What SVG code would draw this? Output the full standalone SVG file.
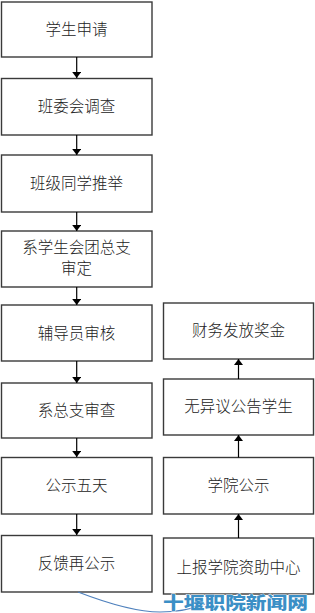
<svg xmlns="http://www.w3.org/2000/svg" width="315" height="613" viewBox="0 0 315 613">
<defs>
<marker id="ah" viewBox="0 0 10 10" refX="10" refY="5" markerWidth="6" markerHeight="9" markerUnits="userSpaceOnUse" orient="auto" preserveAspectRatio="none">
<path d="M0,0 L10,5 L0,10 z" fill="#000"/>
</marker>
<style>
.box{fill:#fff;stroke:#3a3a3a;stroke-width:1.4}
.t{font-family:"Noto Sans CJK SC","Noto Sans",sans-serif;font-weight:300;font-size:15.5px;fill:#222;text-anchor:middle}
.c{stroke:#000;stroke-width:1.2;fill:none;marker-end:url(#ah)}
.wm{font-family:"Noto Sans CJK SC",sans-serif;font-weight:900;font-size:17px;fill:#3b8fc6;stroke:#fff;stroke-width:0.8;paint-order:stroke}
</style>
</defs>
<rect width="315" height="613" fill="#fff"/>
<g id="n1"><rect class="box" x="1.5" y="2" width="150.5" height="55"/><text class="t" x="76.5" y="35">学生申请</text></g>
<g id="n2"><rect class="box" x="1.5" y="78.5" width="150.5" height="56.5"/><text class="t" x="76.5" y="112">班委会调查</text></g>
<g id="n3"><rect class="box" x="1.5" y="155" width="150.5" height="57"/><text class="t" x="76.5" y="189">班级同学推举</text></g>
<g id="n4"><rect class="box" x="1.5" y="231" width="150.5" height="56"/><text class="t" x="76.5" y="252.5">系学生会团总支</text><text class="t" x="76.5" y="274">审定</text></g>
<g id="n5"><rect class="box" x="1.5" y="305" width="150.5" height="56"/><text class="t" x="76.5" y="338.5">辅导员审核</text></g>
<g id="n6"><rect class="box" x="1.5" y="383" width="150.5" height="55"/><text class="t" x="76.5" y="415.5">系总支审查</text></g>
<g id="n7"><rect class="box" x="1.5" y="457.5" width="150.5" height="56.5"/><text class="t" x="76.5" y="491">公示五天</text></g>
<g id="n8"><rect class="box" x="1.5" y="535.5" width="150.5" height="56.5"/><text class="t" x="76.5" y="569">反馈再公示</text></g>
<g id="r1"><rect class="box" x="163.5" y="303" width="150" height="56"/><text class="t" x="238.5" y="336">财务发放奖金</text></g>
<g id="r2"><rect class="box" x="163.5" y="379" width="150" height="56"/><text class="t" x="238.5" y="412">无异议公告学生</text></g>
<g id="r3"><rect class="box" x="163.5" y="457.5" width="150" height="56.5"/><text class="t" x="238.5" y="491">学院公示</text></g>
<g id="r4"><rect class="box" x="163.5" y="538" width="150" height="56"/><text class="t" x="238.5" y="573">上报学院资助中心</text></g>
<g id="connectors">
<line class="c" x1="76.7" y1="57" x2="76.7" y2="78"/>
<line class="c" x1="76.7" y1="135" x2="76.7" y2="155"/>
<line class="c" x1="76.7" y1="212" x2="76.7" y2="231"/>
<line class="c" x1="76.7" y1="287" x2="76.7" y2="305"/>
<line class="c" x1="76.7" y1="361" x2="76.7" y2="383"/>
<line class="c" x1="76.7" y1="438" x2="76.7" y2="457"/>
<line class="c" x1="76.7" y1="514" x2="76.7" y2="535"/>
<line class="c" x1="238.5" y1="379" x2="238.5" y2="359"/>
<line class="c" x1="238.5" y1="457.5" x2="238.5" y2="435"/>
<line class="c" x1="238.5" y1="538" x2="238.5" y2="514"/>
<path d="M78,592 Q130,612 160,612 Q185,612 205,604" fill="none" stroke="#4f81bd" stroke-width="1.2"/>
</g>
<text class="wm" x="163" y="609" textLength="145" lengthAdjust="spacingAndGlyphs">十堰职院新闻网</text>
</svg>
